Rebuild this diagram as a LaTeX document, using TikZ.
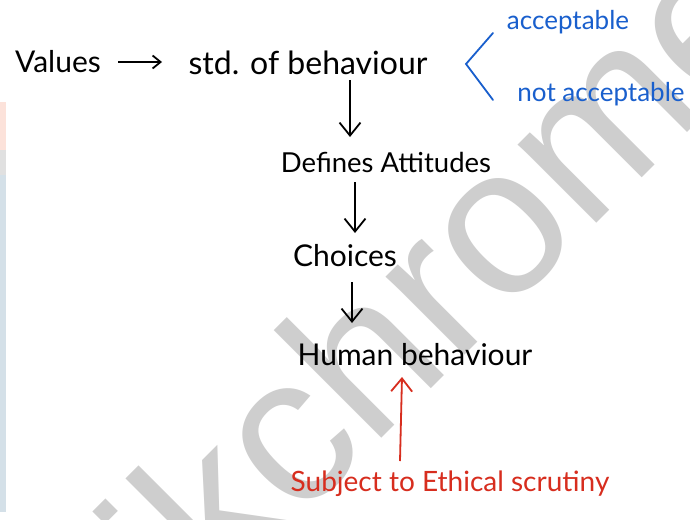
\documentclass[tikz,border=0pt]{standalone}
\usepackage{fontspec}
\setmainfont{Lato}
\newfontfamily\wmfont{Liberation Sans}
\usetikzlibrary{arrows.meta}
\definecolor{inkblue}{RGB}{25,95,205}
\definecolor{inkred}{RGB}{215,45,30}
\definecolor{wmgray}{RGB}{206,206,206}
\definecolor{stripred}{RGB}{252,226,218}
\definecolor{stripblue}{RGB}{212,224,232}
\tikzset{
  lbl/.style={inner sep=0pt, font=\fontsize{30}{32}\selectfont},
  bluelbl/.style={lbl, text=inkblue, font=\fontsize{26}{28}\selectfont},
  redlbl/.style={lbl, text=inkred, font=\fontsize{28}{30}\selectfont},
  flow/.style={line width=1.8pt, -{Straight Barb[length=13pt,width=21pt,line width=1.8pt]}},
  sideflow/.style={line width=1.8pt, -{Straight Barb[length=8pt,width=13pt,line width=1.8pt]}},
  redflow/.style={flow, draw=inkred},
  brace/.style={draw=inkblue, line width=1.8pt, line cap=round}
}
\begin{document}
\begin{tikzpicture}[x=1pt,y=-1pt]
\useasboundingbox (0,0) rectangle (690,519);
\fill[white] (0,0) rectangle (690,519);
% left strip
\fill[stripred] (0,102) rectangle (6,150);
\fill[black!12] (0,150) rectangle (6,175);
\fill[stripblue] (0,175) rectangle (6,512);
% watermark
\node[rotate=45, anchor=base west, inner sep=0pt, text=wmgray,
      font=\wmfont\fontsize{210}{210}\selectfont] (wm) at (190,630) {ikchrome};
% nodes
\node[lbl] (values) at (58,62) {Values};
\node[lbl, font=\fontsize{32}{34}\selectfont] (std) at (308,63) {std. of behaviour};
\node[bluelbl] (acc) at (568,22) {acceptable};
\node[bluelbl] (nacc) at (601,94) {not acceptable};
\node[lbl, font=\fontsize{27.5}{30}\selectfont] (def) at (386,162) {Defines Attitudes};
\node[lbl] (cho) at (345,256) {Choices};
\node[lbl] (hum) at (415,355) {Human behaviour};
\node[redlbl] (sub) at (450,484) {Subject to Ethical scrutiny};
% connector end points
\coordinate (a1s) at (118,62);  \coordinate (a1e) at (162,62);
\coordinate (a2s) at (350,80);  \coordinate (a2e) at (350,137);
\coordinate (a3s) at (355,182); \coordinate (a3e) at (355,233);
\coordinate (a4s) at (352,282); \coordinate (a4e) at (352,323);
\coordinate (r1s) at (400,461); \coordinate (r1e) at (402,377);
\coordinate (bt) at (493,33); \coordinate (tip) at (466,64); \coordinate (bb) at (493,100);
% connectors
\draw[sideflow] (a1s) -- (a1e);
\draw[flow] (a2s) -- (a2e);
\draw[flow] (a3s) -- (a3e);
\draw[flow] (a4s) -- (a4e);
\draw[redflow] (r1s) -- (r1e);
\draw[brace] (bt) -- (tip) -- (bb);
\end{tikzpicture}
\end{document}
